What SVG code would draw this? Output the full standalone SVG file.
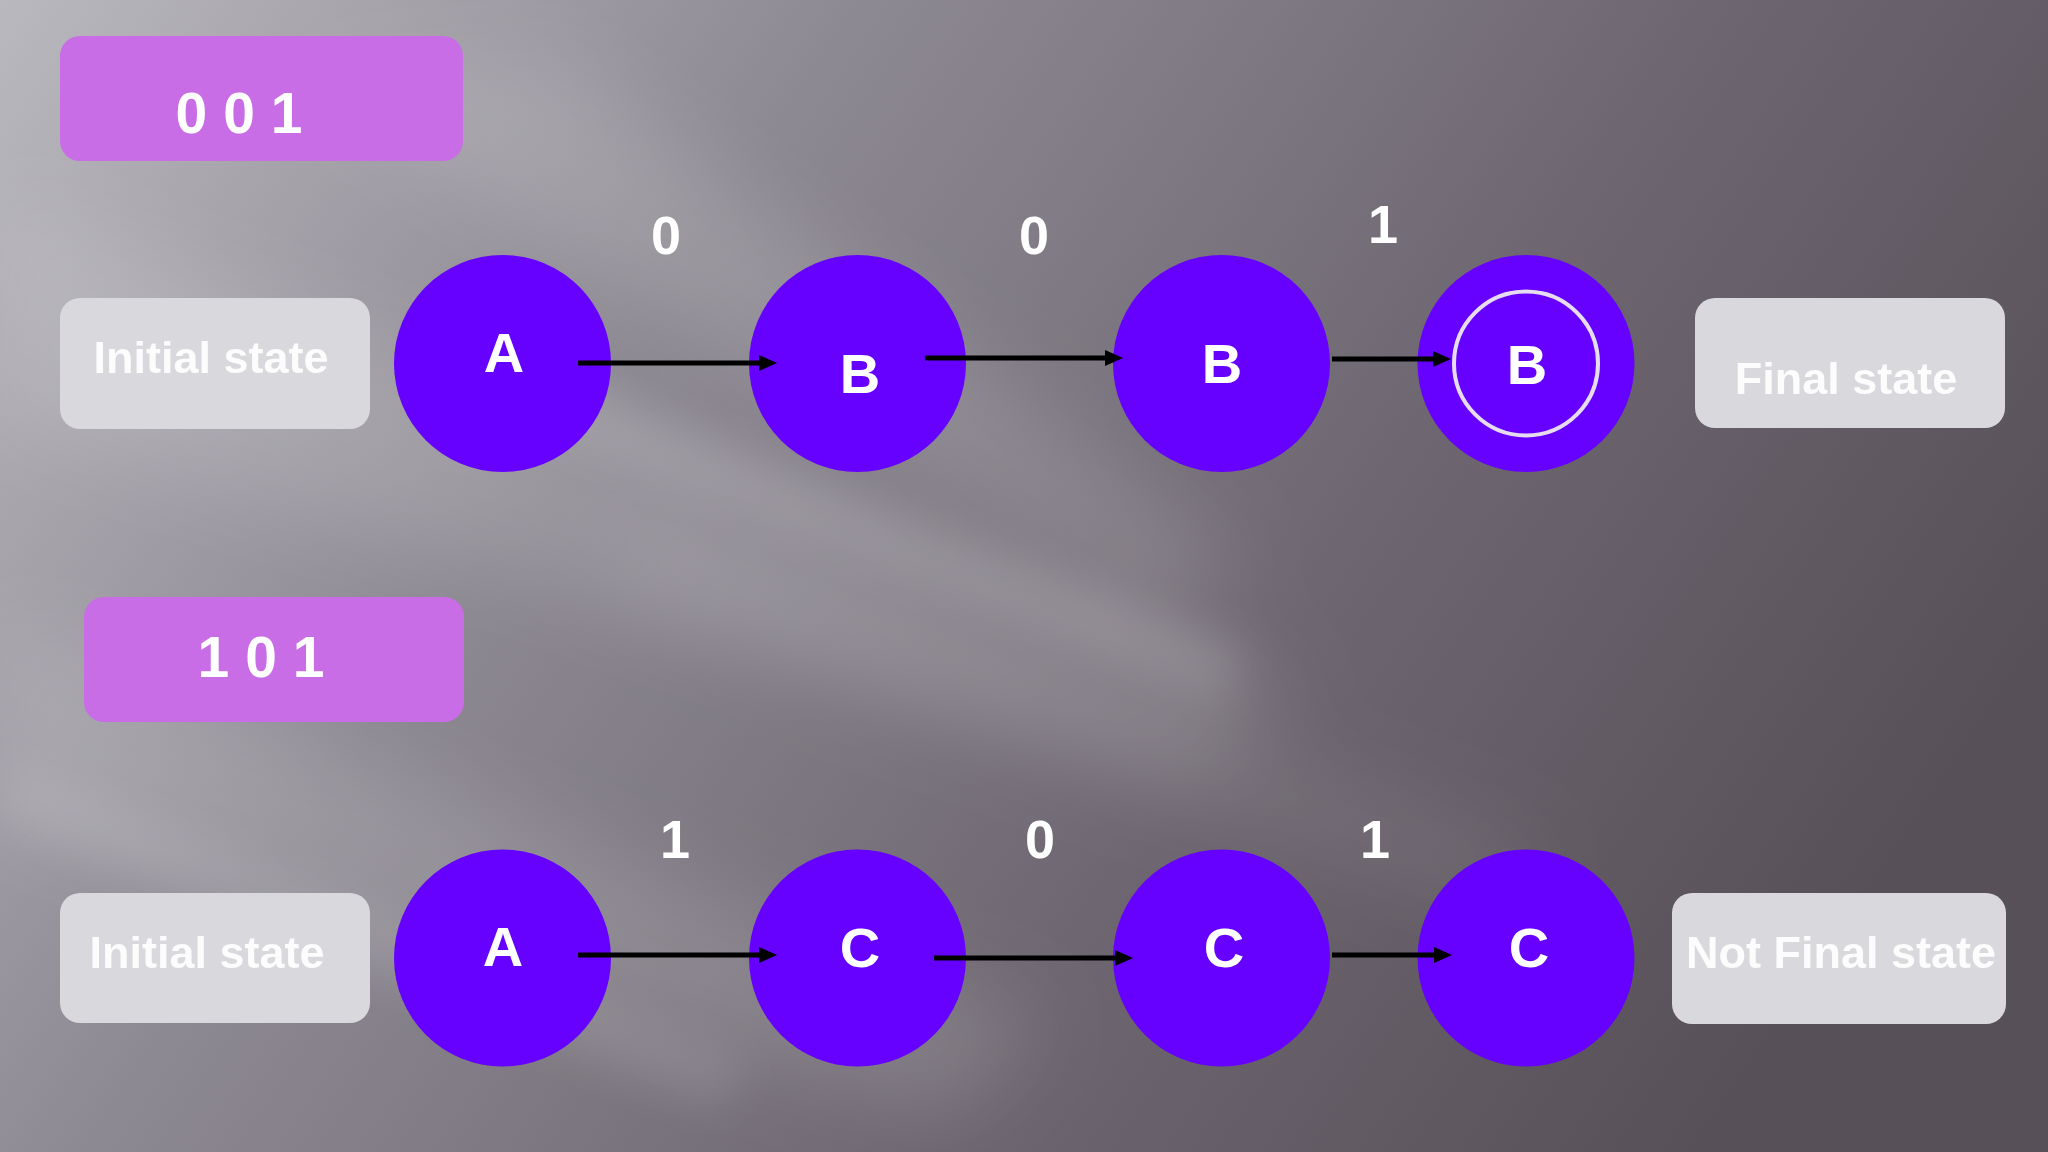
<svg xmlns="http://www.w3.org/2000/svg" width="2048" height="1152" viewBox="0 0 2048 1152">
<defs>
<linearGradient id="bg" gradientUnits="userSpaceOnUse" x1="0" y1="0" x2="1700" y2="1152">
<stop offset="0" stop-color="#bab8bf"/>
<stop offset="0.35" stop-color="#8d8992"/>
<stop offset="0.7" stop-color="#6d6670"/>
<stop offset="1" stop-color="#585058"/>
</linearGradient>
<filter id="blur" x="-20%" y="-20%" width="140%" height="140%"><feGaussianBlur stdDeviation="40"/></filter>
<filter id="blur2" x="-20%" y="-20%" width="140%" height="140%"><feGaussianBlur stdDeviation="22"/></filter>
<marker id="ah" viewBox="0 0 18 18" refX="2" refY="9" markerWidth="18" markerHeight="18" markerUnits="userSpaceOnUse" orient="auto">
<path d="M0,1 L18,9 L0,17 z" fill="#000"/>
</marker>
<style>
.num{fill:#c86de6}
.gray{fill:#d9d8dc}
.st{fill:#6600ff}
.lbl{font-family:"Liberation Sans",Arial,sans-serif;font-weight:bold;fill:#ffffff;text-anchor:middle}
.box{font-size:45px;fill:#fcfcfd}
.seq{font-size:57px}
.edge{font-size:54px}
.node{font-size:56px}
.conn{stroke:#000;stroke-width:5;fill:none;marker-end:url(#ah)}
</style>
</defs>
<g id="background">
<rect x="0" y="0" width="2048" height="1152" fill="url(#bg)"/>
<g filter="url(#blur)" fill="#ffffff">
<polygon points="0,200 0,420 1200,780 1300,680" opacity="0.12"/>
<polygon points="300,80 560,60 1250,560 1150,620" opacity="0.12"/>
<polygon points="0,620 0,820 950,1120 1050,1020" opacity="0.12"/>
<polygon points="650,520 1550,850 1500,920 600,600" opacity="0.07"/>
</g>
<g filter="url(#blur2)" fill="#ffffff">
<polygon points="520,360 1250,650 1220,700 490,410" opacity="0.13"/>
<polygon points="0,760 750,1060 720,1110 0,820" opacity="0.1"/>
</g>
</g>
<g id="seq-001"><rect class="num" x="60" y="36" width="403" height="125" rx="20"/><text class="lbl seq" x="239" y="133">0 0 1</text></g>
<g id="seq-101"><rect class="num" x="84" y="597" width="380" height="125" rx="20"/><text class="lbl seq" x="261" y="677">1 0 1</text></g>
<g id="initial-top"><rect class="gray" x="60" y="298" width="310" height="131" rx="20"/><text class="lbl box" x="211" y="373">Initial state</text></g>
<g id="final-top"><rect class="gray" x="1695" y="298" width="310" height="130" rx="20"/><text class="lbl box" x="1846" y="394">Final state</text></g>
<g id="initial-bottom"><rect class="gray" x="60" y="893" width="310" height="130" rx="20"/><text class="lbl box" x="207" y="968">Initial state</text></g>
<g id="notfinal-bottom"><rect class="gray" x="1672" y="893" width="334" height="131" rx="20"/><text class="lbl box" x="1841" y="968">Not Final state</text></g>
<g id="node-A1"><circle class="st" cx="502.5" cy="363.5" r="108.5"/><text class="lbl node" x="504" y="372">A</text></g>
<g id="node-B1"><circle class="st" cx="857.5" cy="363.5" r="108.5"/><text class="lbl node" x="860" y="393">B</text></g>
<g id="node-B2"><circle class="st" cx="1221.5" cy="363.5" r="108.5"/><text class="lbl node" x="1222" y="383">B</text></g>
<g id="node-B3"><circle class="st" cx="1526" cy="363.5" r="108.5"/><circle cx="1526" cy="363.5" r="72" fill="none" stroke="#e6ddf2" stroke-width="4"/><text class="lbl node" x="1527" y="384">B</text></g>
<g id="node-A2"><circle class="st" cx="502.5" cy="958" r="108.5"/><text class="lbl node" x="503" y="966">A</text></g>
<g id="node-C1"><circle class="st" cx="857.5" cy="958" r="108.5"/><text class="lbl node" x="860" y="967">C</text></g>
<g id="node-C2"><circle class="st" cx="1221.5" cy="958" r="108.5"/><text class="lbl node" x="1224" y="967">C</text></g>
<g id="node-C3"><circle class="st" cx="1526" cy="958" r="108.5"/><text class="lbl node" x="1529" y="967">C</text></g>
<g id="connectors">
<line class="conn" x1="578" y1="363" x2="761" y2="363"/>
<line class="conn" x1="925" y1="358" x2="1107" y2="358"/>
<line class="conn" x1="1332" y1="359" x2="1435" y2="359"/>
<line class="conn" x1="578" y1="955" x2="761" y2="955"/>
<line class="conn" x1="934" y1="958" x2="1117" y2="958"/>
<line class="conn" x1="1332" y1="955" x2="1436" y2="955"/>
<text class="lbl edge" x="666" y="254">0</text>
<text class="lbl edge" x="1034" y="254">0</text>
<text class="lbl edge" x="1383" y="243">1</text>
<text class="lbl edge" x="675" y="858">1</text>
<text class="lbl edge" x="1040" y="858">0</text>
<text class="lbl edge" x="1375" y="858">1</text>
</g>
</svg>
